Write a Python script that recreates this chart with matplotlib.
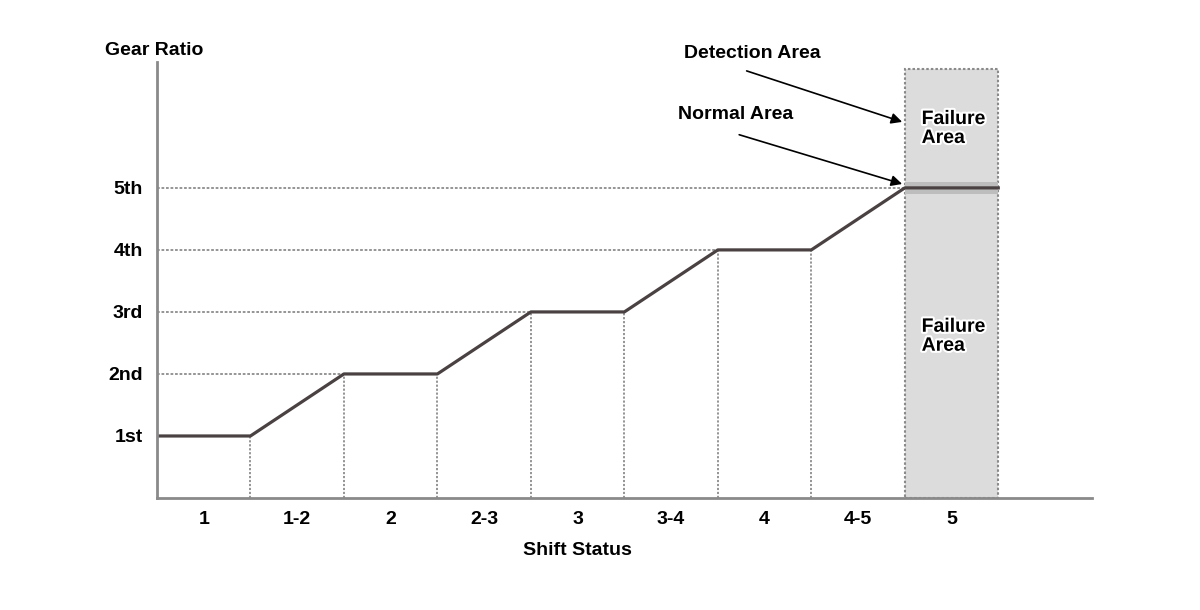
import matplotlib.pyplot as plt
import matplotlib.patheffects as pe

plt.rcParams['font.family'] = ['Liberation Sans', 'DejaVu Sans']

shift_labels = ["1", "1-2", "2", "2-3", "3", "3-4", "4", "4-5", "5"]
gear_labels = ["1st", "2nd", "3rd", "4th", "5th"]
gear_levels = [1, 2, 3, 4, 5]

# gear ratio line through the shift states
line_x = [0, 1, 2, 3, 4, 5, 6, 7, 8, 9]
line_y = [1, 1, 2, 2, 3, 3, 4, 4, 5, 5]

# dotted guides: vertical drop lines and horizontal gear lines
drop_x = [1, 2, 3, 4, 5, 6, 7]
drop_top = [1, 2, 2, 3, 3, 4, 4]
hline_end = [1, 2, 4, 6, 8]

fig = plt.figure(figsize=(12, 6.1), dpi=100)
ax = fig.add_axes([0.1308, 0.1836, 0.779, 0.7148])
ax.set_xlim(0, 10)
ax.set_ylim(0, 7.03)

dark = "#4a4242"
dot = "#8c8c8c"
fs = 14

# failure area box
ax.axvspan(8, 9, ymin=0, ymax=6.92 / 7.03, facecolor="#dcdcdc", edgecolor="#8a8a8a",
           linestyle=(0, (1.2, 1)), linewidth=1.5, zorder=1)
ax.axhspan(4.9, 5.1, xmin=0.8, xmax=0.9, facecolor="#bdbdbd", edgecolor="none", zorder=1.5)

for x, top in zip(drop_x, drop_top):
    ax.plot([x, x], [0, top], color=dot, linestyle=(0, (1.2, 1)), linewidth=1.3, zorder=2)
for lvl, end in zip(gear_levels, hline_end):
    if lvl > 1:
        ax.plot([0, end], [lvl, lvl], color=dot, linestyle=(0, (1.5, 1)), linewidth=1.3, zorder=2)

ax.plot(line_x, line_y, color=dark, linewidth=2.3, zorder=3)

for s in ["top", "right"]:
    ax.spines[s].set_visible(False)
for s in ["left", "bottom"]:
    ax.spines[s].set_color("#8a8a8a")
    ax.spines[s].set_linewidth(2)
    ax.spines[s].set_zorder(4)

ax.set_xticks([i + 0.5 for i in range(len(shift_labels))])
ax.set_xticklabels(shift_labels, fontsize=fs, fontweight="bold")
ax.set_yticks(gear_levels)
ax.set_yticklabels(gear_labels, fontsize=fs, fontweight="bold")
ax.tick_params(axis="x", length=0, pad=9)
ax.tick_params(axis="y", length=0, pad=10)

ax.text(-0.56, 7.22, "Gear Ratio", fontsize=fs, fontweight="bold", ha="left", va="center")
ax.text(4.5, -0.84, "Shift Status", fontsize=fs, fontweight="bold", ha="center", va="center")

halo = [pe.withStroke(linewidth=3, foreground="white")]
for y in [5.95, 2.6]:
    ax.text(8.18, y, "Failure\nArea", fontsize=fs, fontweight="bold", ha="left", va="center",
            linespacing=1.15, path_effects=halo)

ax.annotate("", xy=(8.0, 6.05), xytext=(6.28, 6.9),
            arrowprops=dict(arrowstyle="-|>", color="black", lw=1.2, mutation_scale=16),
            annotation_clip=False)
ax.annotate("", xy=(8.0, 5.05), xytext=(6.2, 5.87),
            arrowprops=dict(arrowstyle="-|>", color="black", lw=1.2, mutation_scale=16),
            annotation_clip=False)
ax.text(5.64, 7.16, "Detection Area", fontsize=fs, fontweight="bold", ha="left", va="center")
ax.text(5.57, 6.18, "Normal Area", fontsize=fs, fontweight="bold", ha="left", va="center")

fig.savefig("out.png", dpi=100)
